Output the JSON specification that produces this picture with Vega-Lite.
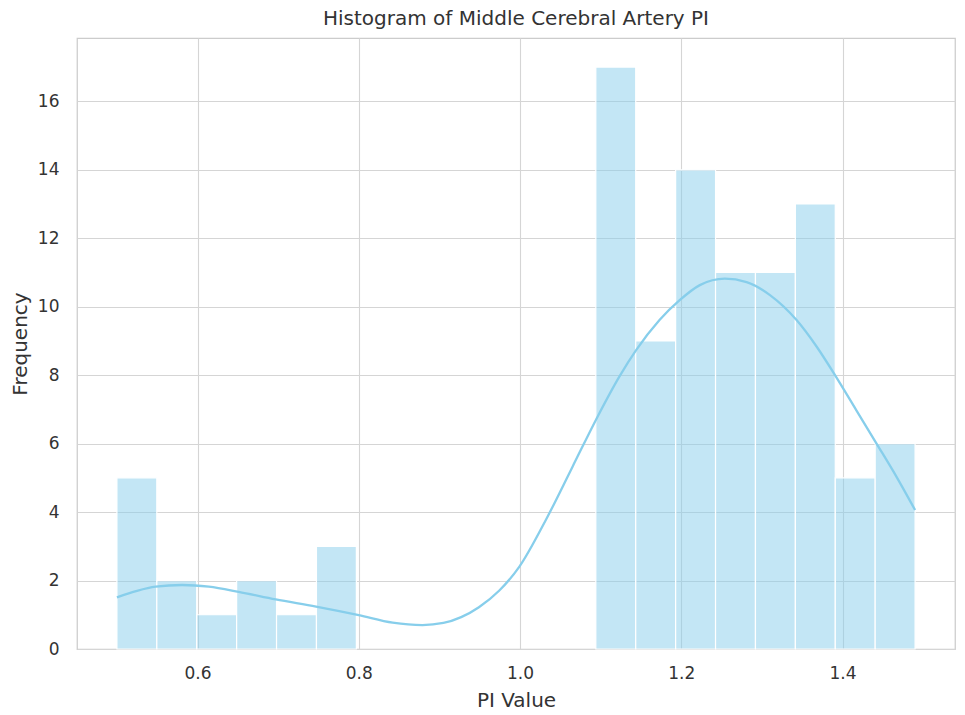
{
  "$schema": "https://vega.github.io/schema/vega-lite/v6.json",
  "width": 878,
  "height": 611,
  "autosize": "none",
  "padding": {"left": 77, "top": 38, "right": 10, "bottom": 66},
  "background": "white",
  "config": {
    "font": "DejaVu Sans",
    "view": {"stroke": "#cccccc", "strokeWidth": 1.25},
    "axis": {
      "domain": false,
      "ticks": false,
      "grid": true,
      "gridColor": "#d5d5d5",
      "gridWidth": 1.1,
      "labelFont": "DejaVu Sans",
      "labelFontSize": 17,
      "labelColor": "#333333",
      "titleFont": "DejaVu Sans",
      "titleFontSize": 20,
      "titleFontWeight": "normal",
      "titleColor": "#333333"
    }
  },
  "title": {
    "text": "Histogram of Middle Cerebral Artery PI",
    "font": "DejaVu Sans",
    "fontSize": 20,
    "fontWeight": "normal",
    "color": "#333333",
    "offset": 9
  },
  "datasets": {
    "bins": [
      {"start": 0.5, "end": 0.5495, "count": 5},
      {"start": 0.5495, "end": 0.599, "count": 2},
      {"start": 0.599, "end": 0.6485, "count": 1},
      {"start": 0.6485, "end": 0.698, "count": 2},
      {"start": 0.698, "end": 0.7475, "count": 1},
      {"start": 0.7475, "end": 0.797, "count": 3},
      {"start": 1.094, "end": 1.1435, "count": 17},
      {"start": 1.1435, "end": 1.193, "count": 9},
      {"start": 1.193, "end": 1.2425, "count": 14},
      {"start": 1.2425, "end": 1.292, "count": 11},
      {"start": 1.292, "end": 1.3415, "count": 11},
      {"start": 1.3415, "end": 1.391, "count": 13},
      {"start": 1.391, "end": 1.4405, "count": 5},
      {"start": 1.4405, "end": 1.49, "count": 6}
    ],
    "kde": [
      {"x": 0.500, "y": 1.51},
      {"x": 0.525, "y": 1.70},
      {"x": 0.548, "y": 1.82},
      {"x": 0.581, "y": 1.87},
      {"x": 0.614, "y": 1.82},
      {"x": 0.651, "y": 1.67},
      {"x": 0.697, "y": 1.45},
      {"x": 0.747, "y": 1.24},
      {"x": 0.800, "y": 0.99},
      {"x": 0.842, "y": 0.77},
      {"x": 0.879, "y": 0.70},
      {"x": 0.905, "y": 0.76},
      {"x": 0.927, "y": 0.93},
      {"x": 0.949, "y": 1.22},
      {"x": 0.974, "y": 1.70},
      {"x": 0.999, "y": 2.40},
      {"x": 1.032, "y": 3.77},
      {"x": 1.065, "y": 5.32},
      {"x": 1.096, "y": 6.78},
      {"x": 1.123, "y": 7.95},
      {"x": 1.144, "y": 8.73},
      {"x": 1.173, "y": 9.61},
      {"x": 1.198, "y": 10.19},
      {"x": 1.223, "y": 10.63},
      {"x": 1.254, "y": 10.82},
      {"x": 1.281, "y": 10.72},
      {"x": 1.310, "y": 10.34},
      {"x": 1.343, "y": 9.61},
      {"x": 1.368, "y": 8.83},
      {"x": 1.392, "y": 7.95},
      {"x": 1.417, "y": 6.98},
      {"x": 1.442, "y": 6.01},
      {"x": 1.467, "y": 5.03},
      {"x": 1.490, "y": 4.06}
    ]
  },
  "layer": [
    {
      "data": {"name": "bins"},
      "mark": {"type": "bar", "fill": "#87ceeb", "fillOpacity": 0.5, "stroke": "white", "strokeWidth": 1.2, "orient": "vertical"},
      "encoding": {
        "x": {
          "field": "start", "type": "quantitative",
          "scale": {"domain": [0.4505, 1.5395], "nice": false, "zero": false, "padding": 0},
          "axis": {"values": [0.6, 0.8, 1.0, 1.2, 1.4], "format": ".1f", "title": "PI Value", "labelPadding": 16, "titlePadding": 9}
        },
        "x2": {"field": "end"},
        "y": {
          "field": "count", "type": "quantitative",
          "scale": {"domain": [0, 17.85], "nice": false, "zero": true, "padding": 0},
          "axis": {"values": [0, 2, 4, 6, 8, 10, 12, 14, 16], "title": "Frequency", "labelPadding": 18, "titlePadding": 7}
        },
        "y2": {"datum": 0}
      }
    },
    {
      "data": {"name": "kde"},
      "mark": {"type": "line", "color": "#87ceeb", "strokeWidth": 2.3, "interpolate": "monotone"},
      "encoding": {
        "x": {"field": "x", "type": "quantitative"},
        "y": {"field": "y", "type": "quantitative"}
      }
    }
  ]
}
